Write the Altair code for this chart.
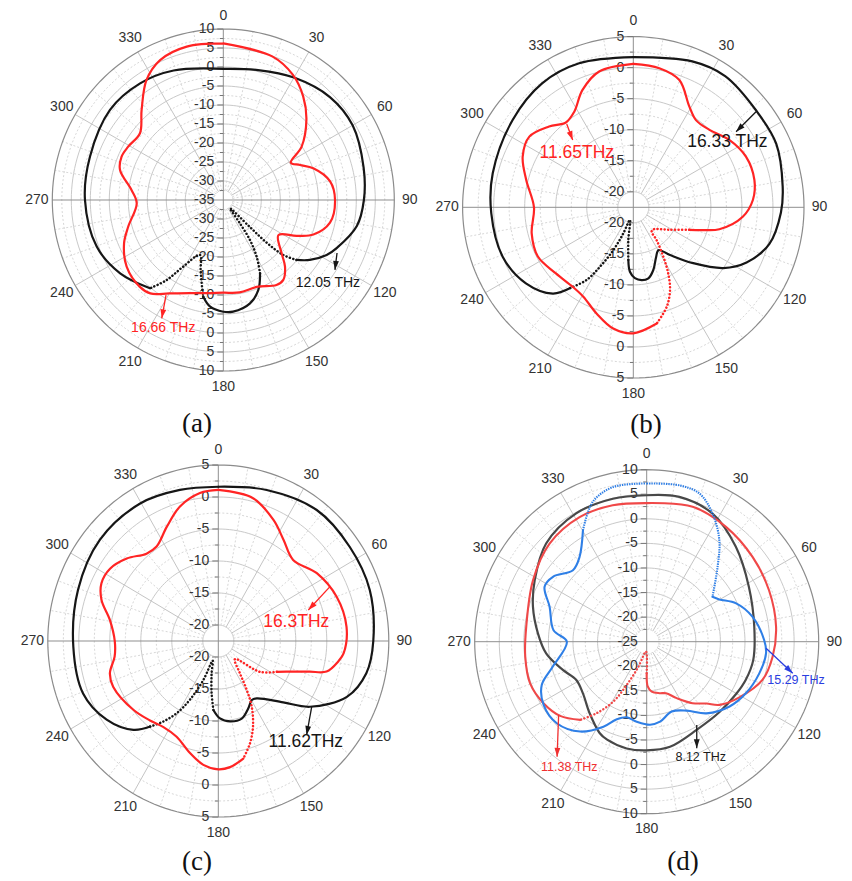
import math
import altair as alt
import pandas as pd

FONT = "Liberation Sans"
SERIF = "Liberation Serif"

# ---------------- (a) ----------------
A_RANGE = [-35, 10]
A_BLACK_ANG = [0, 15, 30, 46, 60, 77, 90, 101, 113, 118, 124.7, 129.3, 132.5, 134.5, 135.5, 141, 144.5, 146.3, 149.5, 153.4,
               158.7, 165.5, 175, 180, 187, 191.7, 194.6, 197.9, 203, 211, 215.3, 219.7, 234.6, 249.8, 270, 288, 308.5, 324.5, 339, 360]
A_BLACK_DB = [-0.5, 0.4, 2.2, 4.0, 4.3, 2.9, 2.0, 0.8, -2.6, -4.2, -7.3, -10.1, -13.6, -18.9, -25.1, -32.2, -27.5, -22.4, -17.7, -13.4,
              -9.6, -6.9, -5.5, -5.6, -6.7, -9.0, -12.4, -15.6, -19.3, -14.6, -9.2, -4.8, -1.7, 0.5, 1.4, 1.9, 3.1, 2.7, 1.5, -0.5]
A_RED_ANG = [0, 19, 29, 37.7, 46, 55.8, 61, 65.5, 70.6, 80, 90, 102, 111, 116, 122.5, 132.4, 137.2, 143.1, 148, 159,
             170, 180, 190, 200, 210, 218, 224, 235.4, 246.4, 254.3, 267.8, 276.2, 286.2, 293, 299.3, 308.7, 317.8, 327.4, 335.7, 346.6, 360]
A_RED_DB = [6.2, 4.9, 2.7, -0.6, -4.6, -10.1, -14.7, -12.8, -9.9, -6.5, -5.6, -6.3, -9.6, -13.5, -17.8, -14.2, -11.1, -8.7, -8.6, -10.5,
            -10.3, -10.6, -10.1, -8.9, -6.6, -3.8, -3.3, -4.1, -6.5, -9.0, -12.2, -10.7, -6.7, -5.9, -6.3, -6.9, -3.0, 2.5, 5.4, 6.5, 6.2]

# ---------------- (b) ----------------
B_RANGE = [-22.5, 5]
B_BLACK_ANG = [0, 22, 35, 52, 66, 82, 92, 105, 116, 124, 133, 142.4, 149.6, 155.3, 162.3, 168, 173.5, 178.7, 183, 185.4,
               188.7, 194.7, 201, 205, 209.3, 212.7, 218, 223, 234.7, 249.3, 267.6, 283.6, 305.9, 323.8, 339.4, 360]
B_BLACK_DB = [1.7, 2.85, 3.3, 2.7, 2.7, 1.8, 1.3, 0.2, -2.2, -5.0, -9.3, -12.8, -14.5, -13.7, -11.9, -10.8, -10.7, -11.1, -12.1, -14.0,
              -17.2, -20.4, -18.0, -14.9, -11.5, -8.6, -6.0, -3.5, -1.3, 0.0, 0.4, 0.8, 1.5, 2.3, 2.3, 1.7]
B_RED_ANG = [0, 10.6, 19.9, 29, 35.7, 44.5, 54.9, 65.8, 77.3, 86.5, 94.9, 104.3, 108, 112, 121.7, 137.7, 143, 144.5, 148.7, 152.1,
             156.1, 161.4, 168.6, 180, 189.4, 199.1, 209.2, 217.4, 229.5, 242.7, 255.6, 270, 284.3, 294.6, 304.2, 313.8, 321.5, 328.3, 336.6, 345.9, 360]
B_RED_DB = [0.6, 0.3, -0.7, -3.9, -5.2, -5.0, -3.6, -2.6, -2.5, -3.2, -4.8, -8.2, -10.6, -12.8, -15.6, -17.7, -17.6, -16.1, -13.2, -10.5,
            -7.9, -5.6, -3.4, -2.2, -2.7, -4.4, -6.0, -6.4, -6.1, -5.2, -5.6, -6.5, -4.7, -2.9, -2.25, -3.7, -5.05, -4.4, -1.9, 0.05, 0.6]

# ---------------- (c) ----------------
C_RANGE = [-22.5, 5]
C_BLACK_ANG = [0, 18.3, 37.8, 55.3, 71.9, 90, 101.9, 112.8, 124.8, 132.5, 145.3, 149.6, 155.4, 162.7, 171.4, 178.7, 184.2, 187.5, 192, 196.4,
               201.6, 206.6, 210.7, 215.2, 219.4, 224.6, 235.7, 249.4, 267.8, 289.5, 309.6, 329.6, 345.3, 360]
C_BLACK_DB = [1.6, 2.35, 3.4, 3.3, 3.2, 2.5, 1.9, 0.0, -4.5, -8.3, -11.6, -11.8, -10.9, -9.8, -9.8, -10.4, -11.7, -14.25, -17.3, -19.3,
              -15.95, -12.2, -9.4, -7.1, -5.2, -3.0, -0.7, 0.8, 0.9, 1.5, 2.3, 2.4, 1.9, 1.6]
C_RED_ANG = [0, 14.1, 25.2, 33.6, 43.6, 56.3, 70.1, 83.9, 95.5, 99.4, 105.3, 108, 111.6, 117, 125.6, 136.6, 145.3, 149, 152.3, 157.3,
             162.3, 167.6, 174.5, 180, 187.1, 194.6, 204.2, 213.6, 221.6, 231.7, 247.2, 253.9, 261.7, 270, 280.7, 288.8, 295.6, 302.9, 311.1, 319.7,
             326, 335.1, 343.6, 352.7, 360]
C_RED_DB = [1.1, 0.5, -1.6, -3.5, -5.0, -3.4, -2.2, -1.7, -2.2, -2.9, -4.4, -7.0, -9.5, -11.9, -14.2, -18.6, -16.4, -13.6, -10.9, -8.0,
            -5.7, -3.7, -2.7, -2.45, -3.0, -4.4, -6.1, -6.4, -5.9, -5.1, -4.1, -4.3, -5.6, -5.8, -4.7, -2.6, -1.6, -1.7, -2.9, -4.6,
            -4.7, -2.8, -0.6, 0.8, 1.1]

# ---------------- (d) ----------------
D_RANGE = [-25, 10]
D_BLACK_ANG = [0, 12.7, 27.2, 43.2, 61.8, 82.1, 99.8, 111, 120, 134, 150, 167.5, 180, 190.6, 202, 207.3, 218.7, 231, 241.5, 251.4,
               263.4, 274.4, 287, 298.8, 314.3, 331.2, 346.7, 360]
D_BLACK_DB = [4.8, 5.2, 4.3, 1.5, -1.4, -2.9, -3.0, -3.4, -3.9, -4.4, -4.4, -3.1, -2.9, -2.9, -3.5, -4.1, -6.4, -8.3, -8.7, -7.0,
              -4.4, -2.8, -0.8, 1.0, 3.6, 4.8, 4.9, 4.8]
D_RED_ANG = [0, 18.8, 34.6, 51.3, 67.2, 83.4, 96.8, 108.3, 121, 131, 136, 143.3, 152, 159.5, 166, 174.3, 178.7, 180, 184, 198.4,
             204.8, 209.1, 214.9, 220.4, 229.4, 239.2, 250.3, 263, 277.1, 298.4, 315.3, 331.7, 346, 360]
D_RED_DB = [3.2, 4.0, 3.4, 2.6, 2.0, 1.5, 0.8, -0.2, -3.0, -5.4, -7.5, -9.4, -12.0, -13.8, -14.2, -14.8, -15.9, -18.6, -23.0, -19.6,
            -15.3, -11.1, -7.3, -4.1, -1.8, -0.55, 0.2, -0.1, -0.3, 1.3, 3.1, 3.8, 3.6, 3.2]
D_BLUE_ANG = [0, 11.8, 19.6, 27.2, 35.6, 43.4, 55.7, 59.8, 66.8, 76.7, 89.2, 95.6, 105.7, 117.5, 128, 140.1, 149.9, 160.3, 170.5, 177.7,
              187.1, 194.8, 201.1, 207, 216.5, 227.8, 238.5, 247.6, 255.1, 270, 277, 289.8, 298.3, 304.7, 314.1, 321.6, 330.2, 338.9, 347.6, 360]
D_BLUE_DB = [7.2, 7.5, 7.0, 4.3, 0.4, -4.0, -8.8, -7.9, -5.2, -2.9, -1.1, -0.6, -1.2, -2.25, -3.6, -6.0, -8.8, -9.9, -8.5, -8.1,
             -8.6, -9.1, -8.1, -5.6, -2.25, -0.3, -0.4, -1.9, -5.2, -8.75, -5.9, -4.0, -1.4, -1.8, -4.1, -3.0, 1.1, 5.5, 7.2, 7.2]

ANGLE_TICKS = list(range(0, 360, 30))
CAPTIONS = ["(a)", "(b)", "(c)", "(d)"]

RED = "#ff2424"
BLACK = "#161616"

PANELS = [
    dict(rng=A_RANGE, cx=223.3, cy=200.0, rx=171.0, ry=171.0, box=(8, 8, 418, 432), cap=(CAPTIONS[0], -0.154, -1.31),
         series=[(A_BLACK_ANG, A_BLACK_DB, BLACK, 2.2, [(128, 154), (190, 221)], []),
                 (A_RED_ANG, A_RED_DB, RED, 2.2, [], [])],
         notes=[dict(c=BLACK, a=(0.665, -0.310, 0.653, -0.409), t="12.05 THz", tp=(0.612, -0.485), fs=14),
                dict(c=RED, a=(-0.335, -0.556, -0.360, -0.692), t="16.66 THz", tp=(-0.351, -0.750), fs=14)]),
    dict(rng=B_RANGE, cx=633.3, cy=207.3, rx=170.7, ry=170.7, box=(426, 8, 418, 432), cap=(CAPTIONS[1], 0.074, -1.275),
         series=[(B_BLACK_ANG, B_BLACK_DB, BLACK, 2.2, [(185, 219)], []),
                 (B_RED_ANG, B_RED_DB, RED, 2.2, [(113, 165)], [])],
         notes=[dict(c=BLACK, a=(0.719, 0.560, 0.602, 0.443), t="16.33 THz", tp=(0.551, 0.380), fs=17.5),
                dict(c=RED, a=(-0.390, 0.488, -0.355, 0.394), t="11.65THz", tp=(-0.331, 0.316), fs=17.5)]),
    dict(rng=C_RANGE, cx=218.3, cy=641.0, rx=170.5, ry=176.0, box=(8, 440, 418, 441), cap=(CAPTIONS[2], -0.125, -1.256),
         series=[(C_BLACK_ANG, C_BLACK_DB, BLACK, 2.2, [(185, 221)], []),
                 (C_RED_ANG, C_RED_DB, RED, 2.2, [(116, 166)], [])],
         notes=[dict(c=RED, a=(0.655, 0.309, 0.528, 0.176), t="16.3THz", tp=(0.457, 0.108), fs=17.5),
                dict(c=BLACK, a=(0.548, -0.373, 0.518, -0.534), t="11.62THz", tp=(0.513, -0.574), fs=17.5)]),
    dict(rng=D_RANGE, cx=646.7, cy=641.7, rx=172.0, ry=172.0, box=(426, 440, 418, 441), cap=(CAPTIONS[3], 0.211, -1.281),
         series=[(D_BLACK_ANG, D_BLACK_DB, "#484848", 2.2, [], []),
                 (D_RED_ANG, D_RED_DB, "#f04848", 2.1, [(180, 220)], []),
                 (D_BLUE_ANG, D_BLUE_DB, "#2f7fe6", 2.1, [], [(328, 360), (0, 57)])],
         notes=[dict(c="#2a3ee0", a=(0.694, -0.038, 0.849, -0.184), t="15.29 THz", tp=(0.868, -0.223), fs=12.5),
                dict(c="#f03030", a=(-0.512, -0.426, -0.521, -0.669), t="11.38 THz", tp=(-0.450, -0.727), fs=12.5),
                dict(c="#1a1a1a", a=(0.291, -0.484, 0.291, -0.620), t="8.12 THz", tp=(0.314, -0.669), fs=12.5)]),
]

ARROW_PATH = "M0,0 L-0.55,1.7 L0.55,1.7 Z"
LABEL_GAP = 15.5


def build_segments(angs, dbs, dotted, fine):
    def st(m):
        for lo, hi in dotted:
            if lo <= m <= hi:
                return "dot"
        for lo, hi in fine:
            if lo <= m <= hi:
                return "fine"
        return "solid"
    rows, seg, prev = [], -1, None
    for i in range(1, len(angs)):
        s = st((angs[i - 1] + angs[i]) / 2.0)
        if s != prev:
            seg += 1
            rows.append(dict(seg=seg, style=s, idx=len(rows), ang=angs[i - 1], db=dbs[i - 1]))
            prev = s
        rows.append(dict(seg=seg, style=s, idx=len(rows), ang=angs[i], db=dbs[i]))
    return pd.DataFrame(rows)


def polar(ch):
    return ch.transform_calculate(
        x="datum.r * sin(datum.ang * PI / 180)",
        y="datum.r * cos(datum.ang * PI / 180)",
    )


def panel(p):
    dmin, dmax = p["rng"]
    span = dmax - dmin
    rx, ry = p["rx"], p["ry"]
    x0, y0, w, h = p["box"]
    xdom = [(x0 - p["cx"]) / rx, (x0 + w - p["cx"]) / rx]
    ydom = [(p["cy"] - (y0 + h)) / ry, (p["cy"] - y0) / ry]
    XS = alt.Scale(domain=xdom, nice=False, zero=False)
    YS = alt.Scale(domain=ydom, nice=False, zero=False)
    X = alt.X("x:Q", scale=XS, axis=None)
    Y = alt.Y("y:Q", scale=YS, axis=None)

    major = []
    L = dmax - 5
    while L > dmin + 1e-9:
        major.append(L)
        L -= 5
    minor = [m for m in [dmax - 2.5 - 5 * k for k in range(20)] if m > dmin + 1e-9]

    layers = []
    circ = []
    for lev in major:
        for a in range(0, 362, 2):
            circ.append(dict(lev=lev, kind="solid", r=(lev - dmin) / span, ang=a))
    for lev in minor:
        for a in range(0, 362, 2):
            circ.append(dict(lev=lev, kind="dot", r=(lev - dmin) / span, ang=a))
    cdf = pd.DataFrame(circ)
    layers.append(polar(alt.Chart(cdf[cdf.kind == "solid"])).mark_line(color="#c9c9c9", strokeWidth=1, clip=True).encode(
        x=X, y=Y, detail="lev:N", order="ang:Q"))
    layers.append(polar(alt.Chart(cdf[cdf.kind == "dot"])).mark_line(color="#d2d2d2", strokeWidth=0.9, strokeDash=[2, 2], clip=True).encode(
        x=X, y=Y, detail="lev:N", order="ang:Q"))

    r0 = 2.5 / span
    sp = []
    for a in range(10, 360, 10):
        if a % 90 == 0:
            continue
        sp.append(dict(kind="solid" if a % 30 == 0 else "dot",
                       x=r0 * math.sin(math.radians(a)), y=r0 * math.cos(math.radians(a)),
                       x2=math.sin(math.radians(a)), y2=math.cos(math.radians(a))))
    spdf = pd.DataFrame(sp)
    layers.append(alt.Chart(spdf[spdf.kind == "solid"]).mark_rule(color="#c4c4c4", strokeWidth=1, clip=True).encode(
        x=X, y=Y, x2="x2:Q", y2="y2:Q"))
    layers.append(alt.Chart(spdf[spdf.kind == "dot"]).mark_rule(color="#d2d2d2", strokeWidth=0.9, strokeDash=[2, 2], clip=True).encode(
        x=X, y=Y, x2="x2:Q", y2="y2:Q"))
    ax = pd.DataFrame([dict(x=0, y=-1, x2=0, y2=1), dict(x=-1, y=0, x2=1, y2=0)])
    layers.append(alt.Chart(ax).mark_rule(color="#8f8f8f", strokeWidth=1, clip=True).encode(x=X, y=Y, x2="x2:Q", y2="y2:Q"))
    oc = pd.DataFrame([dict(r=1.0, ang=a) for a in range(0, 362, 2)])
    layers.append(polar(alt.Chart(oc)).mark_line(color="#8c8c8c", strokeWidth=1.2, clip=True).encode(x=X, y=Y, order="ang:Q"))

    tk = []
    for lev in [dmax] + major:
        for sgn in (1, -1):
            tk.append(dict(x=0, x2=-6.0 / rx, y=sgn * (lev - dmin) / span))
    for lev in minor:
        for sgn in (1, -1):
            tk.append(dict(x=0, x2=-3.5 / rx, y=sgn * (lev - dmin) / span))
    layers.append(alt.Chart(pd.DataFrame(tk)).mark_rule(color="#777777", strokeWidth=1, clip=True).encode(
        x=X, y=Y, x2="x2:Q"))
    lab = []
    for lev in [dmax] + major:
        for sgn in (1, -1):
            lab.append(dict(x=0, y=sgn * (lev - dmin) / span, t=str(int(lev))))
    if abs(dmin - round(dmin / 5) * 5) < 1e-9:
        lab.append(dict(x=0, y=0, t=str(int(dmin))))
    layers.append(alt.Chart(pd.DataFrame(lab)).mark_text(
        align="right", baseline="middle", dx=-9, font=FONT, fontSize=14, color="#333333", clip=True).encode(
        x=X, y=Y, text="t:N"))
    top_room = (p["cy"] - y0) - ry - 7.5
    al = []
    for a in ANGLE_TICKS:
        gap = min(LABEL_GAP, top_room) if a == 0 else LABEL_GAP
        al.append(dict(x=(1 + gap / rx) * math.sin(math.radians(a)), y=(1 + gap / ry) * math.cos(math.radians(a)), t=str(a)))
    layers.append(alt.Chart(pd.DataFrame(al)).mark_text(
        align="center", baseline="middle", font=FONT, fontSize=14, color="#333333", clip=True).encode(
        x=X, y=Y, text="t:N"))

    for angs, dbs, col, sw, dotted, fine in p["series"]:
        df = build_segments(angs, dbs, dotted, fine)
        base = lambda d: alt.Chart(d).transform_calculate(
            r=f"(datum.db - ({dmin})) / {span}").transform_calculate(
            x="datum.r * sin(datum.ang * PI / 180)", y="datum.r * cos(datum.ang * PI / 180)")
        enc = dict(x=X, y=Y, detail="seg:N", order="idx:Q")
        if (df["style"] == "solid").any():
            layers.append(base(df[df["style"] == "solid"]).mark_line(
                interpolate="catmull-rom", color=col, strokeWidth=sw, strokeCap="round", strokeJoin="round",
                clip=True).encode(**enc))
        if (df["style"] == "fine").any():
            layers.append(base(df[df["style"] == "fine"]).mark_line(
                interpolate="catmull-rom", color=col, strokeWidth=sw, strokeDash=[1.4, 1.0], clip=True).encode(**enc))
        if (df["style"] == "dot").any():
            layers.append(base(df[df["style"] == "dot"]).mark_line(
                interpolate="catmull-rom", color=col, strokeWidth=sw + 0.3, strokeCap="round",
                strokeDash=[0.1, 3.4], clip=True).encode(**enc))

    for n in p["notes"]:
        u0, v0, u1, v1 = n["a"]
        rot = math.degrees(math.atan2((u1 - u0) * rx, (v1 - v0) * ry)) % 360
        ad = pd.DataFrame([dict(x=u0, y=v0, x2=u1, y2=v1)])
        layers.append(alt.Chart(ad).mark_rule(color=n["c"], strokeWidth=1.3, clip=True).encode(x=X, y=Y, x2="x2:Q", y2="y2:Q"))
        hd = pd.DataFrame([dict(x=u1, y=v1, rot=rot)])
        layers.append(alt.Chart(hd).mark_point(shape=ARROW_PATH, filled=True, size=112, opacity=1,
                                               color=n["c"], strokeWidth=0, clip=True).encode(
            x=X, y=Y, angle=alt.Angle("rot:Q", scale=None)))
        td = pd.DataFrame([dict(x=n["tp"][0], y=n["tp"][1], t=n["t"])])
        layers.append(alt.Chart(td).mark_text(align="center", baseline="middle", font=FONT,
                                              fontSize=n["fs"], color=n["c"], clip=True).encode(x=X, y=Y, text="t:N"))
    cd = pd.DataFrame([dict(x=p["cap"][1], y=p["cap"][2], t=p["cap"][0])])
    layers.append(alt.Chart(cd).mark_text(align="center", baseline="middle", font=SERIF, fontSize=27,
                                          color="#111111", clip=True).encode(x=X, y=Y, text="t:N"))
    return alt.layer(*layers).properties(width=w, height=h)


charts = [panel(p) for p in PANELS]
chart = alt.concat(*charts, columns=2, spacing=0, bounds="flush").properties(
    padding=0, background="white"
).configure_view(strokeWidth=0, stroke="transparent")

chart.save("out.html", embed_options={"renderer": "svg", "actions": False})
